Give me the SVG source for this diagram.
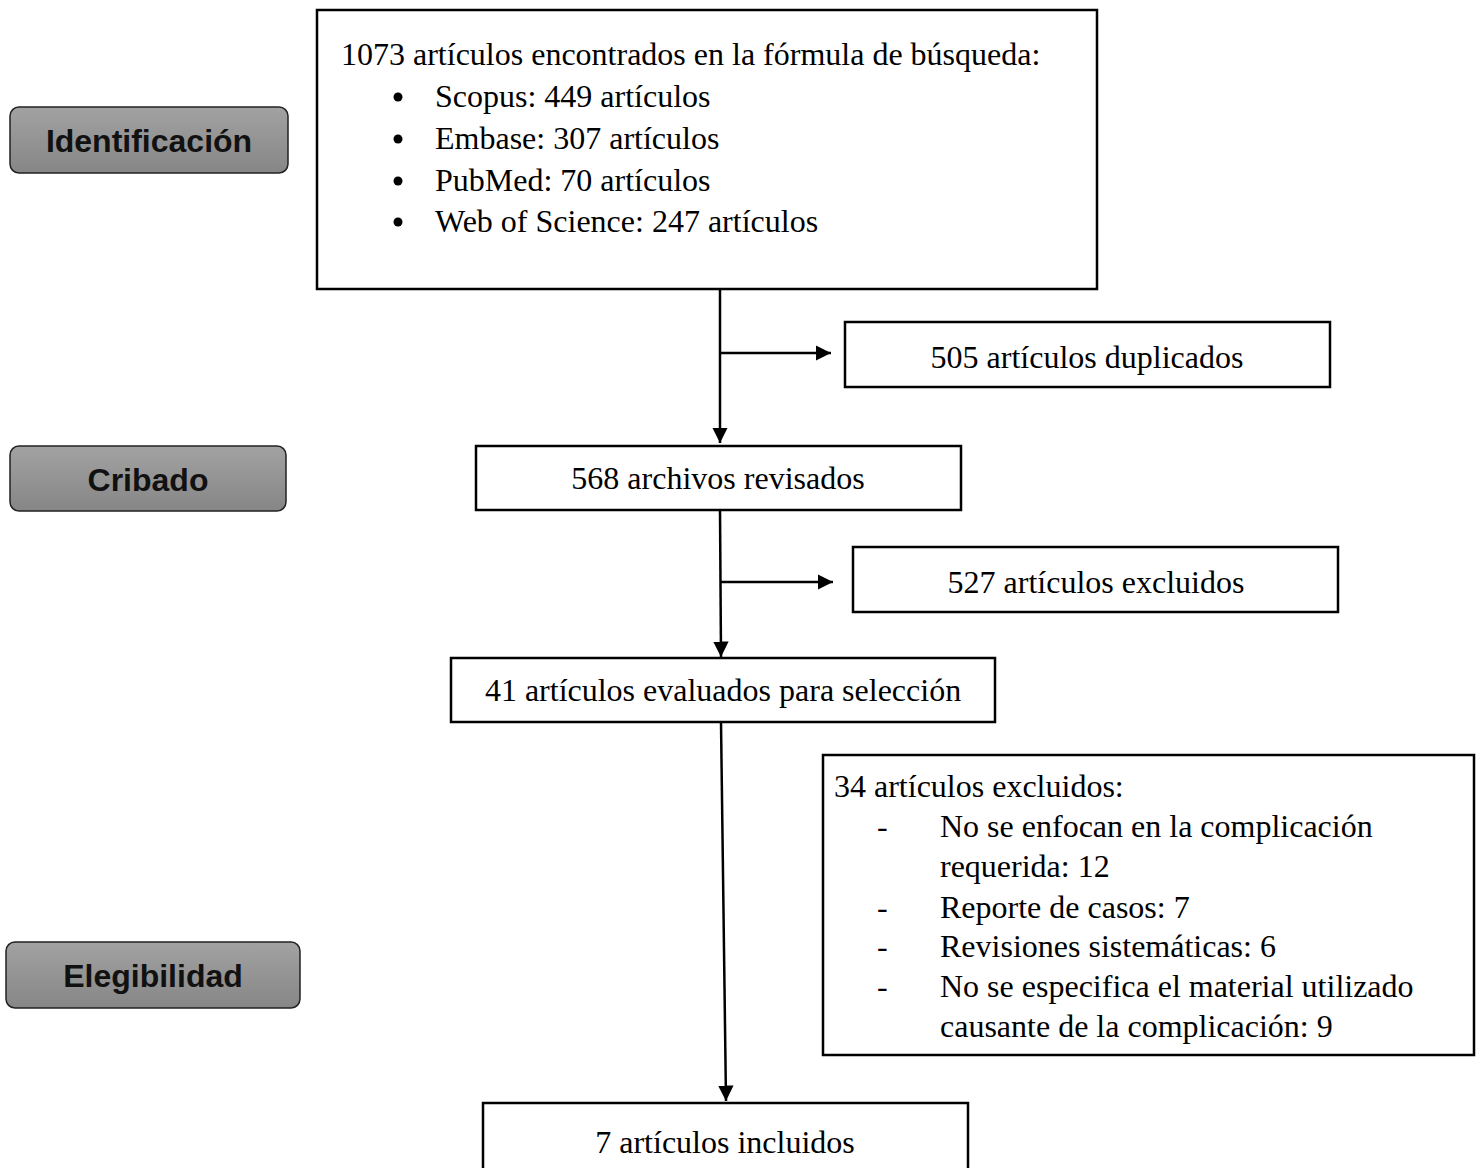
<svg xmlns="http://www.w3.org/2000/svg" width="1483" height="1168" viewBox="0 0 1483 1168">
<style>
.box{fill:#fff;stroke:#000;stroke-width:2.5}
.t{font-family:"Liberation Serif","Times New Roman",serif;font-size:32px;fill:#000}
.c{text-anchor:middle}
.lab{fill:url(#g);stroke:#222;stroke-width:1.5}
.lt{font-family:"Liberation Sans",Arial,sans-serif;font-weight:bold;font-size:32px;fill:#111;text-anchor:middle}
.ln{stroke:#000;stroke-width:2.5;fill:none}
</style>
<defs>
<linearGradient id="g" x1="0" y1="0" x2="0" y2="1">
<stop offset="0" stop-color="#a2a2a2"/>
<stop offset="1" stop-color="#868686"/>
</linearGradient>
<marker id="ah" viewBox="0 0 10 10" refX="10" refY="5" markerWidth="6.2" markerHeight="6.2" orient="auto">
<path d="M0,0 L10,5 L0,10 z" fill="#000"/>
</marker>
</defs>
<g id="lab-identificacion"><rect class="lab" x="10" y="107" width="278" height="66" rx="9"/><text class="lt" x="149" y="152">Identificación</text></g>
<g id="lab-cribado"><rect class="lab" x="10" y="446" width="276" height="65" rx="9"/><text class="lt" x="148" y="491">Cribado</text></g>
<g id="lab-elegibilidad"><rect class="lab" x="6" y="942" width="294" height="66" rx="9"/><text class="lt" x="153" y="987">Elegibilidad</text></g>
<g id="n-1073"><rect class="box" x="317" y="10" width="780" height="279"/>
<text class="t" x="341" y="65">1073 artículos encontrados en la fórmula de búsqueda:</text>
<circle cx="398" cy="97" r="4.5"/><text class="t" x="435" y="107">Scopus: 449 artículos</text>
<circle cx="398" cy="139" r="4.5"/><text class="t" x="435" y="149">Embase: 307 artículos</text>
<circle cx="398" cy="181" r="4.5"/><text class="t" x="435" y="191">PubMed: 70 artículos</text>
<circle cx="398" cy="222" r="4.5"/><text class="t" x="435" y="232">Web of Science: 247 artículos</text>
</g>
<g id="n-505"><rect class="box" x="845" y="322" width="485" height="65"/><text class="t c" x="1087" y="368">505 artículos duplicados</text></g>
<g id="n-568"><rect class="box" x="476" y="446" width="485" height="64"/><text class="t c" x="718" y="489">568 archivos revisados</text></g>
<g id="n-527"><rect class="box" x="853" y="547" width="485" height="65"/><text class="t c" x="1096" y="593">527 artículos excluidos</text></g>
<g id="n-41"><rect class="box" x="451" y="658" width="544" height="64"/><text class="t c" x="723" y="701">41 artículos evaluados para selección</text></g>
<g id="n-34"><rect class="box" x="823" y="755" width="651" height="300"/>
<text class="t" x="834" y="797">34 artículos excluidos:</text>
<text class="t" x="877" y="837">-</text><text class="t" x="940" y="837">No se enfocan en la complicación</text>
<text class="t" x="940" y="877">requerida: 12</text>
<text class="t" x="877" y="918">-</text><text class="t" x="940" y="918">Reporte de casos: 7</text>
<text class="t" x="877" y="957">-</text><text class="t" x="940" y="957">Revisiones sistemáticas: 6</text>
<text class="t" x="877" y="997">-</text><text class="t" x="940" y="997">No se especifica el material utilizado</text>
<text class="t" x="940" y="1037">causante de la complicación: 9</text>
</g>
<g id="n-7"><rect class="box" x="483" y="1103" width="485" height="80"/><text class="t c" x="725" y="1153">7 artículos incluidos</text></g>
<g id="connectors">
<line class="ln" x1="720" y1="289" x2="720" y2="443" marker-end="url(#ah)"/>
<line class="ln" x1="720" y1="353" x2="831" y2="353" marker-end="url(#ah)"/>
<line class="ln" x1="720" y1="510" x2="721" y2="657" marker-end="url(#ah)"/>
<line class="ln" x1="721" y1="582" x2="833" y2="582" marker-end="url(#ah)"/>
<line class="ln" x1="721" y1="722" x2="726" y2="1101" marker-end="url(#ah)"/>
</g>
</svg>
